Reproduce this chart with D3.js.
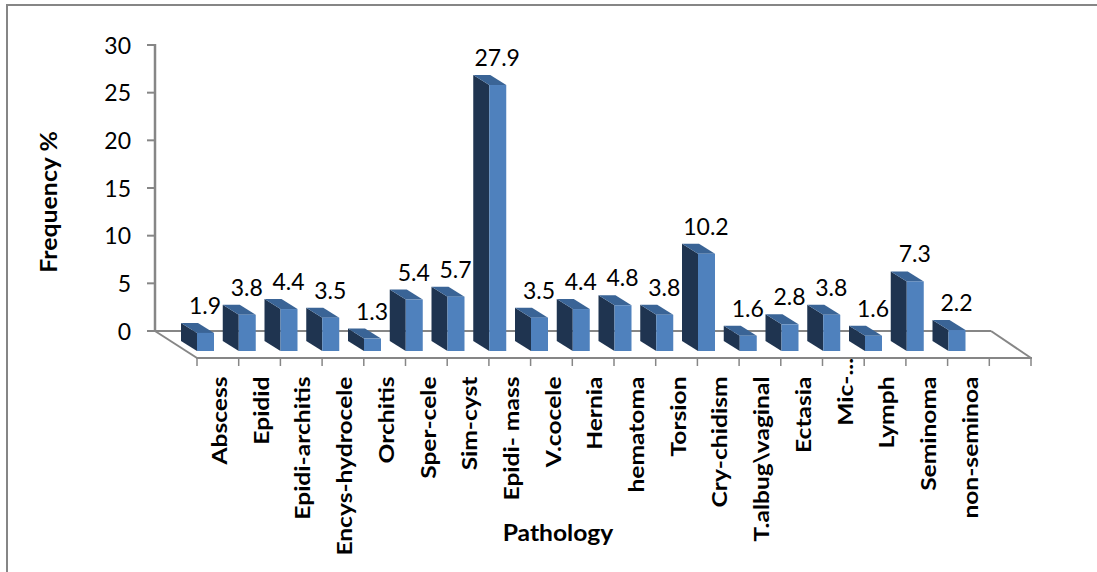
<!DOCTYPE html>
<html><head><meta charset="utf-8">
<style>html,body{margin:0;padding:0;background:#fff}svg{display:block}text{font-family:Lato,"Open Sans",sans-serif;fill:#000}</style>
<script src="https://cdn.jsdelivr.net/npm/d3@7"></script></head>
<body><svg id="c" width="1097" height="572"></svg>
<script>
const categories = ["Abscess","Epidid","Epidi-architis","Encys-hydrocele","Orchitis","Sper-cele","Sim-cyst","Epidi- mass","V.cocele","Hernia","hematoma","Torsion","Cry-chidism","T.albug\\vaginal","Ectasia","Mic-...","Lymph","Seminoma","non-seminoa"];
const values = [1.9,3.8,4.4,3.5,1.3,5.4,5.7,27.9,3.5,4.4,4.8,3.8,10.2,1.6,2.8,3.8,1.6,7.3,2.2];
const yTicks = [0,5,10,15,20,25,30];
const yTitle = "Frequency %";
const xTitle = "Pathology";

const svg = d3.select("#c");
const grey = "#868686";
svg.append("rect").attr("x",7).attr("y",5).attr("width",1100).attr("height",600).attr("fill","#fff").attr("stroke",grey).attr("stroke-width",2);

const y = d3.scaleLinear().domain([0,30]).range([331,45]);
const x = d3.scaleLinear().domain([0,20]).range([197,1031]);
const xBar = d3.scaleLinear().domain([0,20]).range([197,1032]);
const wallDy = 27, backRight = 991;
const bar = {w:17, dx:16, dy:10, base:y(0)+20};
const h0 = y(0);
const g = svg.append("g");
const line = (x1,y1,x2,y2,w=2)=>g.append("line").attr("x1",x1).attr("y1",y1).attr("x2",x2).attr("y2",y2).attr("stroke",grey).attr("stroke-width",w);

// value axis
line(155,y(30)-1,155,h0+1,2.5);
yTicks.forEach(t=>{
  line(147,y(t),155,y(t));
  g.append("text").attr("x",131).attr("y",y(t)+8.5).attr("text-anchor","end").attr("font-size",23).text(t);
});
// floor
line(155,h0,backRight,h0);
line(155,h0,x(0),h0+wallDy);
line(backRight,h0,x(20),h0+wallDy);
line(x(0)-1,h0+wallDy,x(20)+1,h0+wallDy);
d3.range(21).forEach(i=>line(x(i),h0+wallDy,x(i),h0+wallDy+8,1.5));

// bars
const gb = svg.append("g").selectAll("g").data(values).join("g");
gb.each(function(v,i){
  const s = d3.select(this), fx=xBar(i), b=bar.base, t=b-(h0-y(v));
  s.append("path").attr("d",d3.line()([[fx,t],[fx,b],[fx-bar.dx,b-bar.dy],[fx-bar.dx,t-bar.dy]])).attr("fill","#1F3450");
  s.append("path").attr("d",d3.line()([[fx,t],[fx+bar.w,t],[fx+bar.w-bar.dx,t-bar.dy],[fx-bar.dx,t-bar.dy]])).attr("fill","#3A6496");
  s.append("rect").attr("x",fx).attr("y",t).attr("width",bar.w).attr("height",b-t).attr("fill","#4F81BD");
  s.append("text").attr("x",fx+8).attr("y",t-19).attr("text-anchor","middle").attr("font-size",23).text(v);
});
// category labels
svg.append("g").selectAll("text").data(categories).join("text")
  .attr("font-size",21).attr("font-weight",700).attr("text-anchor","end")
  .attr("transform",(d,i)=>`translate(${x(i)+30},${d.endsWith("...")?358:376.5}) rotate(-90) scale(1.17,1)`).text(d=>d);
svg.append("text").attr("font-size",22).attr("font-weight",700).attr("text-anchor","middle")
  .attr("transform","translate(57,202) rotate(-90) scale(1.13,1)").text(yTitle);
svg.append("text").attr("font-size",22).attr("font-weight",700).attr("text-anchor","middle")
  .attr("transform","translate(558,541) scale(1.12,1)").text(xTitle);
</script></body></html>
